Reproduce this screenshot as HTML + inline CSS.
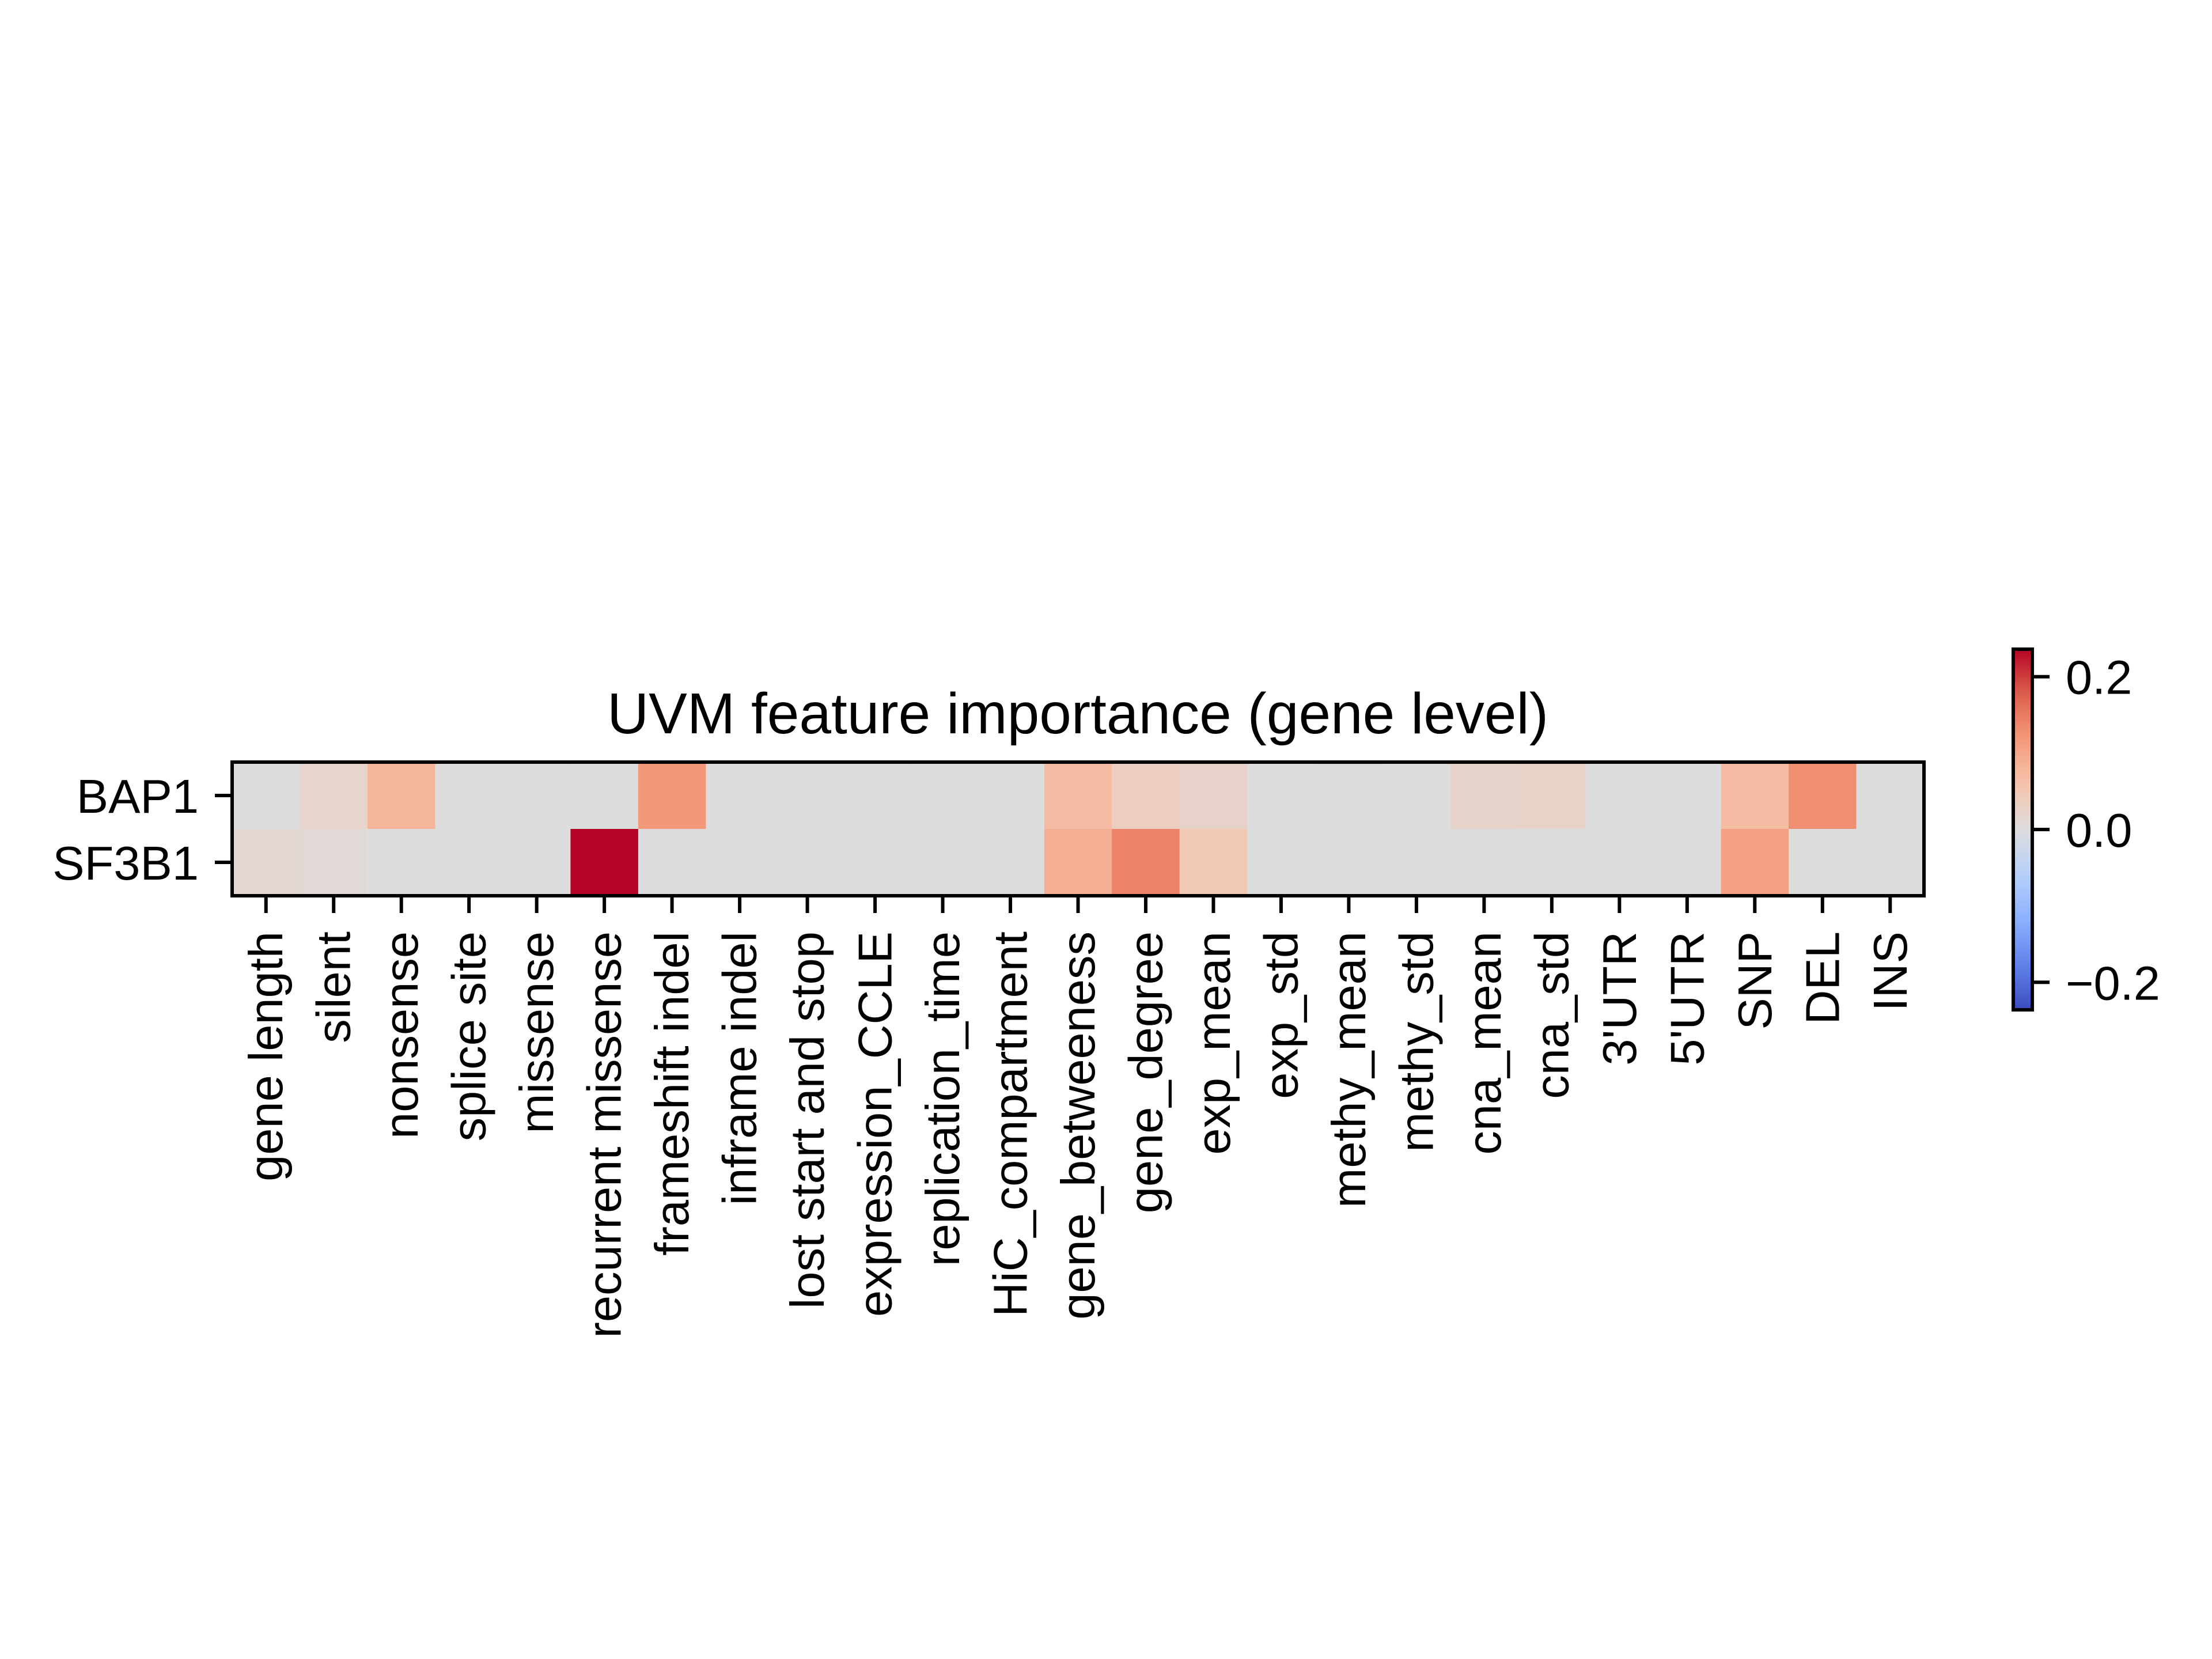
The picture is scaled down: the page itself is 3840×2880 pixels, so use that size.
<!DOCTYPE html>
<html><head><meta charset="utf-8">
<style>html,body{margin:0;padding:0;background:#fff;}svg{display:block;}</style>
</head><body>
<svg id="chart" width="3840" height="2880" viewBox="0 0 3840 2880" xmlns="http://www.w3.org/2000/svg" font-family="Liberation Sans, Arial, sans-serif">
<defs><linearGradient id="cbgrad" x1="0" y1="1" x2="0" y2="0"></linearGradient></defs>
<rect width="3840" height="2880" fill="#fff"/>
<text x="1871" y="1273" font-size="100" text-anchor="middle">UVM feature importance (gene level)</text>
<g id="cells"></g><g id="xt"></g><g id="yt"></g><g id="cb"></g>
</svg>
<script>
const features = ["gene length","silent","nonsense","splice site","missense","recurrent missense","frameshift indel","inframe indel","lost start and stop","expression_CCLE","replication_time","HiC_compartment","gene_betweeness","gene_degree","exp_mean","exp_std","methy_mean","methy_std","cna_mean","cna_std","3'UTR","5'UTR","SNP","DEL","INS"];
const genes = ["BAP1","SF3B1"];
const valuesBAP1 = [0,0.02,0.08,0,0,0,0.12,0,0,0,0,0,0.07,0.035,0.025,0,0.002,0,0.022,0.028,0,0,0.07,0.13,0];
const valuesSF3B1 = [0.015,0.01,0,0,0,0.236,0,0,0,0,0,0,0.09,0.14,0.05,0,0,0,0,0,0,0,0.11,0,0];
const cbTicks = [-0.2,0.0,0.2];
const cbTickLabels = ["\u22120.2","0.0","0.2"];
const vmin = -0.236, vmax = 0.236;

const NS="http://www.w3.org/2000/svg";
const L=403, R=3340, T=1323, B=1555;
const cw=(R-L)/features.length, rh=(B-T)/genes.length;
const xPos=i=>L+i*cw, yPos=j=>T+j*rh;
const cmapPts=[[0,59,76,192],[0.125,98,130,234],[0.25,141,176,254],[0.375,184,208,249],[0.5,221,221,221],[0.625,245,196,173],[0.75,244,154,123],[0.875,222,96,77],[1,180,4,38]];
function cmap(t){t=Math.max(0,Math.min(1,t));for(let k=1;k<cmapPts.length;k++){const a=cmapPts[k-1],b=cmapPts[k];if(t<=b[0]){const f=(t-a[0])/(b[0]-a[0]);return `rgb(${[1,2,3].map(c=>Math.round(a[c]+f*(b[c]-a[c]))).join(",")})`;}}return "rgb(180,4,38)";}
const norm=v=>(v-vmin)/(vmax-vmin);
function mk(tag,attrs,parent){const e=document.createElementNS(NS,tag);for(const k in attrs)e.setAttribute(k,attrs[k]);parent.appendChild(e);return e;}
const cells=document.getElementById('cells');
[valuesBAP1,valuesSF3B1].forEach((row,j)=>{row.forEach((v,i)=>{
 const r=mk('rect',{x:xPos(i),y:yPos(j),width:cw+0.5,height:rh+0.5,fill:cmap(norm(v))},cells);
 
 
});});
const frame=mk('rect',{x:L,y:T,width:R-L,height:B-T,fill:'none',stroke:'#000','stroke-width':6},cells);


const xt=document.getElementById('xt');
features.forEach((f,i)=>{const cx=xPos(i)+cw/2;
 const tk=mk('line',{x1:cx,y1:B,x2:cx,y2:B+30,stroke:'#000','stroke-width':6},xt);
 
 
 const t=mk('text',{x:0,y:0,'font-size':83,'text-anchor':'end','dominant-baseline':'central',transform:`translate(${cx},1617) rotate(-90)`},xt);
 t.textContent=f;
 
 
});
const yt=document.getElementById('yt');
genes.forEach((g,j)=>{const cy=yPos(j)+rh/2;
 const tk=mk('line',{x1:L-30,y1:cy,x2:L,y2:cy,stroke:'#000','stroke-width':6},yt);
 
 
 const t=mk('text',{x:L-58,y:cy+30,'font-size':83,'text-anchor':'end'},yt);
 t.textContent=g;
 
 
});
const grad=document.getElementById('cbgrad');
for(let k=0;k<=20;k++){mk('stop',{offset:(k/20),'stop-color':cmap(k/20)},grad);}
const cb=document.getElementById('cb');
const CL=3495, CR=3528, CT=1127, CB=1753;
const cy=v=>CB-(v-vmin)/(vmax-vmin)*(CB-CT);
const bar=mk('rect',{x:CL,y:CT,width:CR-CL,height:CB-CT,fill:'url(#cbgrad)',stroke:'#000','stroke-width':6},cb);


cbTicks.forEach((v,k)=>{const y=cy(v);
 const tk=mk('line',{x1:CR,y1:y,x2:CR+30,y2:y,stroke:'#000','stroke-width':6},cb);
 
 
 const t=mk('text',{x:CR+58,y:y+30,'font-size':83},cb);
 t.textContent=cbTickLabels[k];
 
 
});
</script>
</body></html>
